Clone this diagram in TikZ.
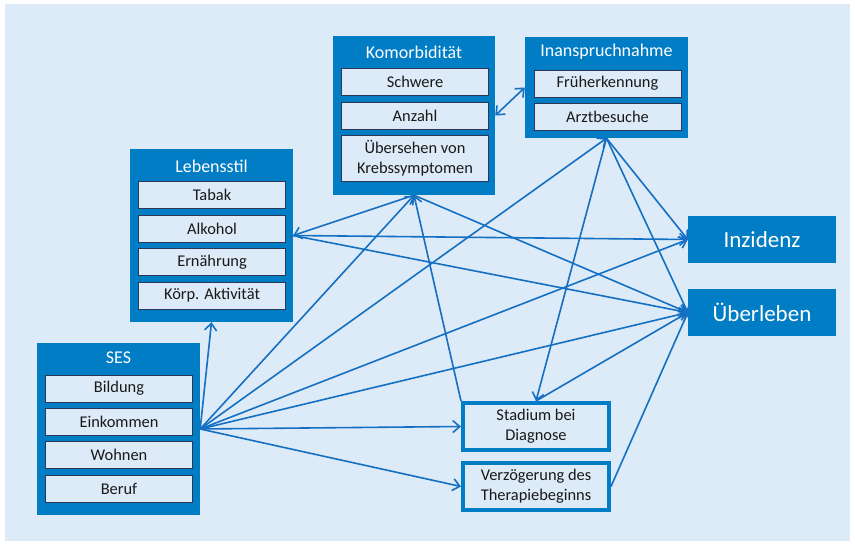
\documentclass[tikz,border=0pt]{standalone}
\usepackage{fontspec}
\setmainfont{Carlito}
\usepackage{tikz}
\usetikzlibrary{arrows.meta}
\definecolor{bgblue}{RGB}{221,234,247}
\definecolor{boxblue}{RGB}{0,125,196}
\definecolor{linkblue}{RGB}{20,112,194}
\definecolor{itemline}{RGB}{45,55,85}

\begin{document}
\begin{tikzpicture}[x=1pt, y=-1pt, >={Straight Barb[length=7pt,width=12pt]},
    group/.style={fill=boxblue, inner sep=0pt},
    grouptitle/.style={text=white, inner sep=0pt, font=\fontsize{18}{21}\selectfont},
    item/.style={fill=bgblue, draw=itemline, line width=1pt, inner sep=0pt,
      minimum width=147pt, minimum height=27pt, align=center, text=black!90,
      font=\fontsize{16.4}{20}\selectfont},
    outcome/.style={fill=boxblue, inner sep=0pt, minimum width=148pt,
      minimum height=47pt, text=white, font=\fontsize{23}{27}\selectfont},
    factor/.style={fill=bgblue, draw=boxblue, line width=4pt, inner sep=0pt,
      minimum width=146pt, minimum height=47pt, align=center, text=black!90,
      font=\fontsize{16.4}{20}\selectfont},
    link/.style={draw=linkblue, line width=1.6pt, ->}]
    \useasboundingbox (0,0) rectangle (855,546);
    \fill[bgblue] (5,4) rectangle (850,541);

    % Komorbiditaet
    \node[group, minimum width=162pt, minimum height=159pt] (komorb) at (414,115.5) {};
    \node[grouptitle] (komorbT) at (414,52) {Komorbidität};
    \node[item] (schwere) at (415,82) {Schwere};
    \node[item] (anzahl) at (415,115.5) {Anzahl};
    \node[item, minimum height=46pt] (uebersehen) at (415,158.5) {Übersehen von\\Krebssymptomen};

    % Inanspruchnahme
    \node[group, minimum width=163pt, minimum height=101pt] (insp) at (606.5,87.5) {};
    \node[grouptitle] (inspT) at (606.5,52) {Inanspruchnahme};
    \node[item] (frueh) at (607.5,83.5) {Früherkennung};
    \node[item] (arzt) at (607.5,117) {Arztbesuche};

    % Lebensstil
    \node[group, minimum width=163pt, minimum height=173pt] (leb) at (211.5,235.5) {};
    \node[grouptitle] (lebT) at (211.5,166) {Lebensstil};
    \node[item] (tabak) at (212,195) {Tabak};
    \node[item] (alkohol) at (212,229) {Alkohol};
    \node[item] (ernaehrung) at (212,262) {Ernährung};
    \node[item] (koerp) at (212,295.5) {Körp. Aktivität};

    % SES
    \node[group, minimum width=163pt, minimum height=172pt] (ses) at (118.5,429) {};
    \node[grouptitle] (sesT) at (118.5,358) {SES};
    \node[item] (bildung) at (119,388.5) {Bildung};
    \node[item] (einkommen) at (119,422) {Einkommen};
    \node[item] (wohnen) at (119,455) {Wohnen};
    \node[item] (beruf) at (119,489) {Beruf};

    % outcomes and factors
    \node[outcome] (inz) at (762,239.5) {Inzidenz};
    \node[outcome] (ueb) at (762,312.5) {Überleben};
    \node[factor] (stad) at (536,426.5) {Stadium bei\\Diagnose};
    \node[factor] (verz) at (536,486.5) {Verzögerung des\\Therapiebeginns};

    % arrows from SES
    \draw[link] (ses.east) -- (leb.south);
    \draw[link] (ses.east) -- (komorb.south);
    \draw[link] (ses.east) -- (insp.south);
    \draw[link] (ses.east) -- (inz.west);
    \draw[link] (ses.east) -- (ueb.west);
    \draw[link] (ses.east) -- (stad.west);
    \draw[link] (ses.east) -- (verz.west);
    % Lebensstil and Komorbiditaet
    \draw[link] (komorb.south) -- (leb.east);
    \draw[link] (leb.east) -- (inz.west);
    \draw[link] (leb.east) -- (ueb.west);
    \draw[link] (komorb.south) -- (ueb.west);
    \draw[link] (stad.north west) -- (komorb.south);
    \draw[link, <->] (komorb.east) -- (insp.west);
    % Inanspruchnahme
    \draw[link] (insp.south) -- (inz.west);
    \draw[link] (insp.south) -- (ueb.west);
    \draw[link] (insp.south) -- (stad.north);
    % Stadium and Verzoegerung
    \draw[link] (stad.north) -- (ueb.west);
    \draw[link] (verz.east) -- (ueb.west);
\end{tikzpicture}
\end{document}
